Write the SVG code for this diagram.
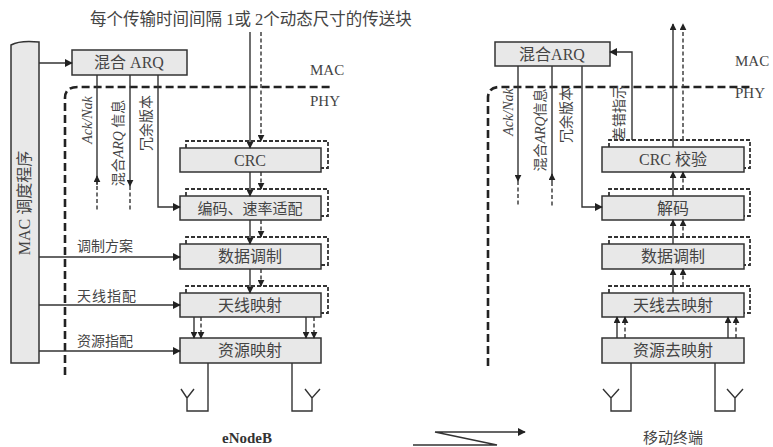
<svg xmlns="http://www.w3.org/2000/svg" width="773" height="447" viewBox="0 0 773 447">
<defs>
<style>
.box{fill:#e8e8e8;stroke:#333;stroke-width:1.5}
.ln{fill:none;stroke:#333;stroke-width:1.4}
.dl{fill:none;stroke:#333;stroke-width:1.4;stroke-dasharray:4 2.5}
.sh{fill:none;stroke:#333;stroke-width:1.8;stroke-dasharray:4 2}
.bd{fill:none;stroke:#222;stroke-width:2.6;stroke-dasharray:8 4}
.t{font-family:"Liberation Serif","Noto Sans CJK SC",serif;fill:#444;font-size:15px}
.c{text-anchor:middle}
.bx{font-size:16px}
.s{font-size:14px}
.i{font-style:italic}
</style>
<marker id="a" viewBox="0 0 10 10" refX="9" refY="5" markerWidth="8" markerHeight="8" markerUnits="userSpaceOnUse" orient="auto"><path d="M0,0 L10,5 L0,10 Z" fill="#222"/></marker>
<marker id="b" viewBox="0 0 10 10" refX="9" refY="5" markerWidth="7" markerHeight="7" markerUnits="userSpaceOnUse" orient="auto"><path d="M0,0 L10,5 L0,10 Z" fill="#222"/></marker>
</defs>
<rect width="773" height="447" fill="#fff"/>

<!-- boundaries -->
<path class="bd" d="M65,375 V98 Q65,87 78,87 H330"/>
<path class="bd" d="M488,366 V98 Q488,87 500,87 H752"/>
<text class="t" x="310" y="75">MAC</text>
<text class="t" x="310" y="106">PHY</text>
<text class="t" x="735" y="66">MAC</text>
<text class="t" x="735" y="98">PHY</text>
<text class="t" x="90" y="25" style="font-size:16.5px">每个传输时间间隔 1或 2个动态尺寸的传送块</text>

<!-- eNodeB nodes -->
<g id="mac-scheduler">
<path class="box" d="M11,45 Q20,40 39,42 V363 H11 Z"/>
<text class="t" transform="translate(30,203) rotate(-90)" text-anchor="middle" style="font-size:16px">MAC 调度程序</text>
</g>
<g id="harq-tx">
<rect class="box" x="72" y="50" width="115" height="25"/>
<text class="t c" x="129" y="68" style="font-size:16px">混合 ARQ</text>
</g>
<g id="crc">
<path class="sh" d="M186,148 V141 H328 V168 H321"/>
<rect class="box" x="180" y="148" width="141" height="24"/>
<text class="t c bx" x="250" y="166">CRC</text>
</g>
<g id="coding">
<path class="sh" d="M186,196 V189 H328 V216 H321"/>
<rect class="box" x="180" y="196" width="141" height="24"/>
<text class="t c" x="250" y="214">编码、速率适配</text>
</g>
<g id="modulation">
<path class="sh" d="M186,244 V237 H328 V265 H321"/>
<rect class="box" x="180" y="244" width="141" height="25"/>
<text class="t c bx" x="250" y="262">数据调制</text>
</g>
<g id="antenna-map">
<path class="sh" d="M186,293 V286 H328 V313 H321"/>
<rect class="box" x="180" y="293" width="141" height="24"/>
<text class="t c bx" x="250" y="311">天线映射</text>
</g>
<g id="resource-map">
<rect class="box" x="180" y="338" width="141" height="25"/>
<text class="t c bx" x="250" y="356">资源映射</text>
</g>

<!-- UE nodes -->
<g id="harq-rx">
<rect class="box" x="495" y="42" width="115" height="24"/>
<text class="t c" x="552" y="60" style="font-size:16px">混合ARQ</text>
</g>
<g id="crc-check">
<path class="sh" d="M609,147 V140 H750 V168 H744"/>
<rect class="box" x="602" y="147" width="142" height="25"/>
<text class="t c bx" x="673" y="165">CRC 校验</text>
</g>
<g id="decoding">
<path class="sh" d="M609,196 V189 H750 V216 H744"/>
<rect class="box" x="602" y="196" width="142" height="24"/>
<text class="t c bx" x="673" y="214">解码</text>
</g>
<g id="demodulation">
<path class="sh" d="M609,244 V237 H750 V265 H744"/>
<rect class="box" x="602" y="244" width="142" height="25"/>
<text class="t c bx" x="673" y="262">数据调制</text>
</g>
<g id="antenna-demap">
<path class="sh" d="M609,293 V286 H750 V313 H744"/>
<rect class="box" x="602" y="293" width="142" height="24"/>
<text class="t c bx" x="673" y="311">天线去映射</text>
</g>
<g id="resource-demap">
<rect class="box" x="602" y="338" width="142" height="25"/>
<text class="t c bx" x="673" y="356">资源去映射</text>
</g>

<!-- connectors -->
<g id="connectors">
<path class="ln" d="M39,63 H72" marker-end="url(#a)"/>
<path class="ln" d="M97,184 V75"/>
<path class="ln" d="M97,185 L97,176" marker-end="url(#b)"/>
<path class="dl" d="M97,186 V211"/>
<path class="ln" d="M130,75 V186" marker-end="url(#b)"/>
<path class="dl" d="M130,186 V211"/>
<path class="ln" d="M158,75 V207 H180" marker-end="url(#a)"/>
<path class="ln" d="M39,257 H180" marker-end="url(#a)"/>
<path class="ln" d="M39,305 H180" marker-end="url(#a)"/>
<path class="ln" d="M39,351 H180" marker-end="url(#a)"/>

<path class="ln" d="M250,32 V148" marker-end="url(#b)"/>
<path class="dl" d="M261,32 V141" marker-end="url(#b)"/>
<path class="ln" d="M250,172 V196" marker-end="url(#b)"/>
<path class="dl" d="M261,172 V189" marker-end="url(#b)"/>
<path class="ln" d="M250,220 V244" marker-end="url(#b)"/>
<path class="dl" d="M261,220 V237" marker-end="url(#b)"/>
<path class="ln" d="M250,269 V293" marker-end="url(#b)"/>
<path class="dl" d="M261,269 V286" marker-end="url(#b)"/>
<path class="ln" d="M194,317 V338" marker-end="url(#b)"/>
<path class="dl" d="M201,317 V338" marker-end="url(#b)"/>
<path class="ln" d="M306,317 V338" marker-end="url(#b)"/>
<path class="dl" d="M314,317 V338" marker-end="url(#b)"/>

<path class="ln" d="M208,363 V411 H187 V398 M181,389 L187,398 L194,389"/>
<path class="ln" d="M292,363 V411 H312 V398 M305,389 L312,398 L320,389"/>

<!-- UE side -->
<path class="ln" d="M518,66 V181" marker-end="url(#b)"/>
<path class="dl" d="M518,181 V207"/>
<path class="ln" d="M552,66 V180"/>
<path class="ln" d="M552,182 V174" marker-end="url(#b)"/>
<path class="dl" d="M552,182 V207"/>
<path class="ln" d="M582,66 V207 H602" marker-end="url(#a)"/>
<path class="ln" d="M632,140 V52 H610" marker-end="url(#a)"/>
<path class="ln" d="M673,147 V24" marker-end="url(#b)"/>
<path class="dl" d="M683,140 V24" marker-end="url(#b)"/>
<path class="ln" d="M673,196 V172" marker-end="url(#b)"/>
<path class="dl" d="M683,189 V172" marker-end="url(#b)"/>
<path class="ln" d="M673,244 V220" marker-end="url(#b)"/>
<path class="dl" d="M683,237 V220" marker-end="url(#b)"/>
<path class="ln" d="M673,293 V269" marker-end="url(#b)"/>
<path class="dl" d="M683,286 V269" marker-end="url(#b)"/>
<path class="ln" d="M617,338 V317" marker-end="url(#b)"/>
<path class="dl" d="M625,338 V317" marker-end="url(#b)"/>
<path class="ln" d="M728,338 V317" marker-end="url(#b)"/>
<path class="dl" d="M736,338 V317" marker-end="url(#b)"/>

<path class="ln" d="M631,363 V411 H611 V398 M603,389 L611,398 L619,389"/>
<path class="ln" d="M715,363 V411 H735 V398 M727,389 L735,398 L743,389"/>

<path class="ln" d="M413,445 H497 L435,432 H525" marker-end="url(#a)"/>
</g>

<!-- labels -->
<text class="t s i" transform="translate(92,120) rotate(-90)" text-anchor="middle">Ack/Nak</text>
<text class="t s" transform="translate(123,143) rotate(-90)" text-anchor="middle">混合<tspan class="i">ARQ</tspan> 信息</text>
<text class="t s" transform="translate(151,123) rotate(-90)" text-anchor="middle">冗余版本</text>
<text class="t s i" transform="translate(513,112) rotate(-90)" text-anchor="middle">Ack/Nak</text>
<text class="t s" transform="translate(545,130) rotate(-90)" text-anchor="middle">混合<tspan class="i">ARQ</tspan>信息</text>
<text class="t s" transform="translate(571,115) rotate(-90)" text-anchor="middle">冗余版本</text>
<text class="t s" transform="translate(624,113) rotate(-90)" text-anchor="middle">差错指示</text>
<text class="t s" x="77" y="251">调制方案</text>
<text class="t s" x="77" y="301" letter-spacing="1">天线指配</text>
<text class="t s" x="77" y="346">资源指配</text>
<text class="t c" x="247" y="443" style="font-weight:bold;fill:#333">eNodeB</text>
<text class="t c" x="673" y="443">移动终端</text>
</svg>
